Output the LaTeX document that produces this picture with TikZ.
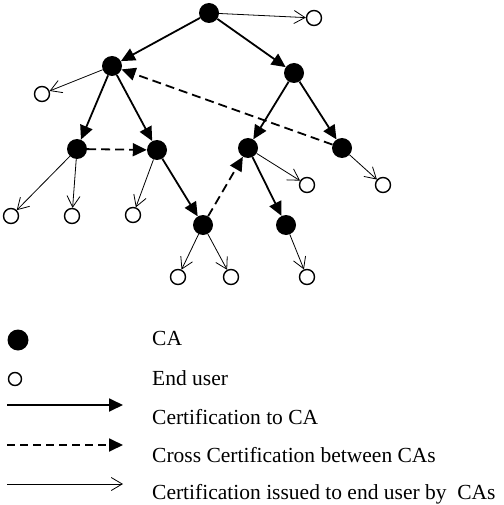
\documentclass[tikz,border=0pt]{standalone}
\usepackage{fontspec}
\setmainfont{Liberation Serif}
\usetikzlibrary{arrows.meta}
\tikzstyle{ca} = [circle, fill=black, inner sep=0pt, minimum size=20pt]
\tikzstyle{user} = [circle, draw=black, line width=1.4pt, fill=white,
                    inner sep=0pt, minimum size=15pt]
\tikzstyle{arrow} = [line width=1.8pt, -{Triangle[length=14pt,width=13pt]}]
\tikzstyle{crossarrow} = [arrow, dash pattern=on 9pt off 5pt]
\tikzstyle{userarrow} = [line width=0.8pt,
                         -{Straight Barb[length=11pt,width=13pt]}]
\tikzstyle{legendtext} = [anchor=base west, inner sep=0pt,
                          font=\fontsize{21.5}{24}\selectfont]

\begin{document}
\begin{tikzpicture}[x=1pt,y=-1pt]
\useasboundingbox (0,0) rectangle (503,505);

% CAs
\node (c0) [ca] at (209,13) {};
\node (c1) [ca] at (112,66) {};
\node (c2) [ca] at (294,73) {};
\node (c3) [ca] at (77,149) {};
\node (c4) [ca] at (157,150) {};
\node (c5) [ca] at (248,148) {};
\node (c6) [ca] at (342,148) {};
\node (c7) [ca] at (203,225) {};
\node (c8) [ca] at (286,225) {};

% end users
\node (u0) [user] at (314,18) {};
\node (u1) [user] at (42,94) {};
\node (u2) [user] at (11,216) {};
\node (u3) [user] at (72,216) {};
\node (u4) [user] at (133,215) {};
\node (u5) [user] at (307,185) {};
\node (u6) [user] at (383,185) {};
\node (u7) [user] at (178,277) {};
\node (u8) [user] at (231,277) {};
\node (u9) [user] at (307,277) {};

% certification to CA
\draw [arrow] (c0) -- (c1);
\draw [arrow] (c0) -- (c2);
\draw [arrow] (c1) -- (c3);
\draw [arrow] (c1) -- (c4);
\draw [arrow] (c2) -- (c5);
\draw [arrow] (c2) -- (c6);
\draw [arrow] (c4) -- (c7);
\draw [arrow] (c5) -- (c8);

% cross certification
\draw [crossarrow] (c6) -- (c1);
\draw [crossarrow] (c3) -- (c4);
\draw [crossarrow] (c7) -- (c5);

% certification to end users
\draw [userarrow] (c0) -- (u0);
\draw [userarrow] (c1) -- (u1);
\draw [userarrow] (c3) -- (u2);
\draw [userarrow] (c3) -- (u3);
\draw [userarrow] (c4) -- (u4);
\draw [userarrow] (c5) -- (u5);
\draw [userarrow] (c6) -- (u6);
\draw [userarrow] (c7) -- (u7);
\draw [userarrow] (c7) -- (u8);
\draw [userarrow] (c8) -- (u9);

% legend
\node (lca) [ca, minimum size=21pt] at (18,340) {};
\node (luser) [user, minimum size=13pt] at (15,379) {};
\coordinate (a0) at (7,405);
\coordinate (a1) at (123,405);
\coordinate (b0) at (7,445);
\coordinate (b1) at (123,445);
\coordinate (d0) at (7,484);
\coordinate (d1) at (123,484);
\draw [arrow] (a0) -- (a1);
\draw [crossarrow, dash pattern=on 8pt off 5pt] (b0) -- (b1);
\draw [userarrow] (d0) -- (d1);

\node (t0) [legendtext] at (152,345) {CA};
\node (t1) [legendtext] at (152,385) {End user};
\node (t2) [legendtext] at (152,424) {Certification to CA};
\node (t3) [legendtext] at (152,462) {Cross Certification between CAs};
\node (t4) [legendtext] at (152,499) {Certification issued to end user by\ \ CAs};

\end{tikzpicture}
\end{document}
